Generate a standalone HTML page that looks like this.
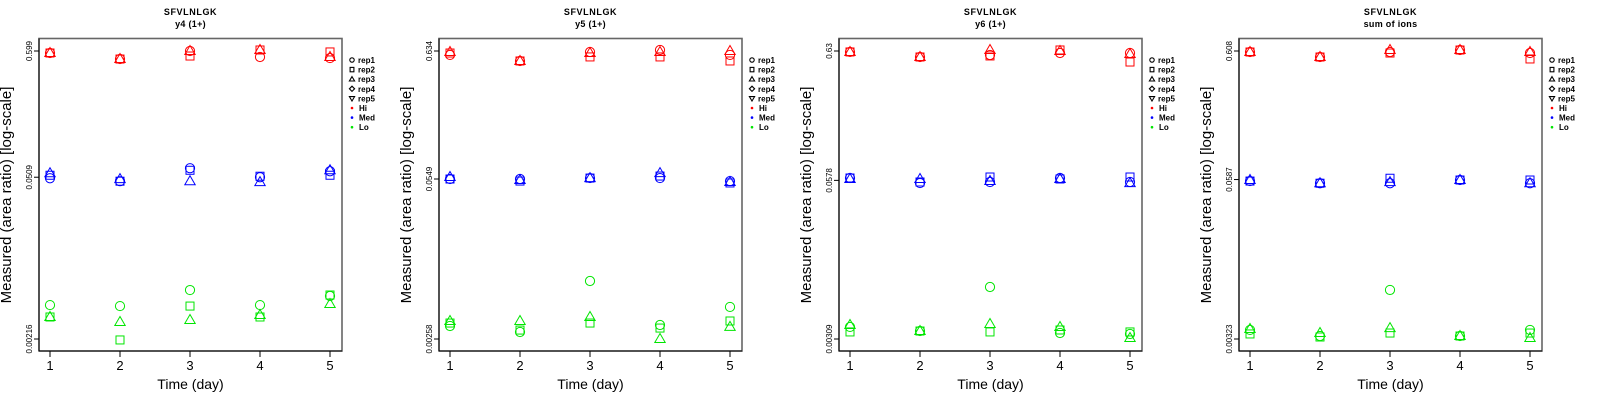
<!DOCTYPE html>
<html><head><meta charset="utf-8"><style>
body{margin:0;background:#fff;}
svg{display:block;font-family:"Liberation Sans",sans-serif;}
</style></head><body>
<svg id="chart" width="1600" height="400" viewBox="0 0 1600 400" xmlns="http://www.w3.org/2000/svg"></svg>
<script>
// ---- data ----
const days = [1, 2, 3, 4, 5];
const panelTitles = ["y4 (1+)", "y5 (1+)", "y6 (1+)", "sum of ions"];
const yTickLabels = [["0.599","0.0509","0.00216"],["0.634","0.0549","0.00258"],["0.63","0.0578","0.00309"],["0.608","0.0587","0.00323"]];
const yTickValues = [[0.599,0.0509,0.00216],[0.634,0.0549,0.00258],[0.63,0.0578,0.00309],[0.608,0.0587,0.00323]];
const levels = ["Hi","Med","Lo"];
const reps = ["rep1","rep2","rep3","rep4","rep5"];
// values[level][day] = [rep1, rep2, rep3]
const p1Hi  = [[0.576,0.576,0.576],[0.512,0.512,0.512],[0.599,0.543,0.599],[0.533,0.611,0.611],[0.522,0.588,0.533]];
const p1Med = [[0.0499,0.0529,0.0550],[0.0471,0.0471,0.0490],[0.0607,0.0583,0.0471],[0.0509,0.0519,0.0462],[0.0572,0.0529,0.0583]];
const p1Lo  = [[0.00419,0.00332,0.00332],[0.00411,0.00212,0.00301],[0.00562,0.00411,0.00313],[0.00419,0.00332,0.00345],[0.00500,0.00510,0.00428]];
const p2Hi  = [[0.588,0.610,0.622],[0.524,0.524,0.524],[0.622,0.566,0.610],[0.646,0.566,0.622],[0.588,0.524,0.634]];
const p2Med = [[0.0549,0.0549,0.0570],[0.0549,0.0528,0.0539],[0.0559,0.0559,0.0559],[0.0559,0.0581,0.0615],[0.0528,0.0509,0.0518]];
const p2Lo  = [[0.00331,0.00350,0.00364],[0.00295,0.00306,0.00364],[0.00782,0.00350,0.00393],[0.00337,0.00318,0.00258],[0.00476,0.00364,0.00325]];
const p3Hi  = [[0.619,0.619,0.619],[0.564,0.564,0.564],[0.585,0.575,0.642],[0.607,0.642,0.630],[0.607,0.514,0.596]];
const p3Med = [[0.0604,0.0604,0.0593],[0.0550,0.0561,0.0593],[0.0561,0.0615,0.0572],[0.0604,0.0593,0.0593],[0.0561,0.0615,0.0550]];
const p3Lo  = [[0.00386,0.00352,0.00400],[0.00358,0.00358,0.00358],[0.00807,0.00352,0.00408],[0.00345,0.00365,0.00386],[0.00339,0.00352,0.00315]];
const p4Hi  = [[0.597,0.597,0.597],[0.545,0.545,0.545],[0.597,0.586,0.619],[0.619,0.619,0.619],[0.586,0.526,0.597]];
const p4Med = [[0.0571,0.0571,0.0582],[0.0549,0.0549,0.0549],[0.0549,0.0601,0.0560],[0.0582,0.0582,0.0582],[0.0549,0.0582,0.0549]];
const p4Lo  = [[0.00381,0.00354,0.00387],[0.00341,0.00335,0.00360],[0.00788,0.00360,0.00394],[0.00341,0.00341,0.00341],[0.00381,0.00360,0.00329]];
const panelData = [[p1Hi,p1Med,p1Lo],[p2Hi,p2Med,p2Lo],[p3Hi,p3Med,p3Lo],[p4Hi,p4Med,p4Lo]];

const colors = {Hi:"#ff0000", Med:"#0000ff", Lo:"#00e600"};
const NS = "http://www.w3.org/2000/svg";
const svg = document.getElementById("chart");
function mk(tag, attrs, parent){const e=document.createElementNS(NS,tag);for(const k in attrs)e.setAttribute(k,attrs[k]);(parent||svg).appendChild(e);return e;}

function marker(g, shape, cx, cy, col){
  let e;
  const r=4.6;
  if(shape===0) e=mk("circle",{cx:cx,cy:cy,r:r,fill:"none",stroke:col,"stroke-width":1},g);
  else if(shape===1) e=mk("rect",{x:cx-4,y:cy-4,width:8,height:8,fill:"none",stroke:col,"stroke-width":1},g);
  else if(shape===2) e=mk("polygon",{points:`${cx},${cy-5.5} ${cx+5.2},${cy+3.5} ${cx-5.2},${cy+3.5}`,fill:"none",stroke:col,"stroke-width":1},g);
  else if(shape===3) e=mk("polygon",{points:`${cx},${cy-5} ${cx+5},${cy} ${cx},${cy+5} ${cx-5},${cy}`,fill:"none",stroke:col,"stroke-width":1},g);
  else e=mk("polygon",{points:`${cx},${cy+5.5} ${cx+5.2},${cy-3.5} ${cx-5.2},${cy-3.5}`,fill:"none",stroke:col,"stroke-width":1},g);
  return e;
}

panelData.forEach((pd, p) => {
  const ox = p*400;
  const g = mk("g",{transform:`translate(${ox},0)`});
  
  
  const L=39,R=342,T=38.5,B=351;
  const tv=yTickValues[p];
  const lt=Math.log10(tv[0]), lb=Math.log10(tv[2]);
  const yS = v => 51 + (lt - Math.log10(v)) / (lt - lb) * (339-51);
  const xS = d => 50 + (d-1) * 70;

  const t1=mk("text",{x:190.5,y:15,"text-anchor":"middle","font-size":9,"font-weight":"bold","letter-spacing":"0.6"},g);
  t1.textContent="SFVLNLGK";
  
  
  const t2=mk("text",{x:190.5,y:27,"text-anchor":"middle","font-size":9,"font-weight":"bold","letter-spacing":"0.3"},g);
  t2.textContent=panelTitles[p];
  
  

  const box=mk("rect",{x:L,y:T,width:R-L,height:B-T,fill:"none",stroke:"#666","stroke-width":1.6},g);
  
  
  mk("line",{x1:L,y1:T,x2:L,y2:B,stroke:"#000","stroke-width":1},g);
  mk("line",{x1:L,y1:B,x2:R,y2:B,stroke:"#000","stroke-width":1},g);

  days.forEach(d=>{
    const x=xS(d);
    mk("line",{x1:x,y1:B,x2:x,y2:B+6,stroke:"#000"},g);
    const tl=mk("text",{x:x,y:370,"text-anchor":"middle","font-size":13},g);
    tl.textContent=String(d);
    
    
  });
  const xt=mk("text",{x:190.5,y:389,"text-anchor":"middle","font-size":14},g);
  xt.textContent="Time (day)";
  
  

  tv.forEach((v,i)=>{
    const y=yS(v);
    mk("line",{x1:L-5,y1:y,x2:L,y2:y,stroke:"#000"},g);
    const yl=mk("text",{x:0,y:0,"text-anchor":"middle","font-size":8,transform:`translate(32,${y}) rotate(-90)`},g);
    yl.textContent=yTickLabels[p][i];
    
    
  });
  const yt=mk("text",{x:0,y:0,"text-anchor":"middle","font-size":15,transform:"translate(11,195) rotate(-90)"},g);
  yt.textContent="Measured (area ratio) [log-scale]";
  
  

  pd.forEach((lev, li)=>{
    const col=colors[levels[li]];
    lev.forEach((vals, di)=>{
      vals.forEach((v, ri)=>{
        const m=marker(g, ri, xS(days[di]), yS(v), col);
        
        
      });
    });
  });

  const lg=mk("g",{},g);
  
  
  const items=reps.concat(levels);
  items.forEach((it,i)=>{
    const y=60+i*9.6;
    const sx=352;
    if(i<5){
      const s=i===0?mk("circle",{cx:sx,cy:y,r:2.2,fill:"none",stroke:"#000","stroke-width":1.1},lg)
        : i===1?mk("rect",{x:sx-1.9,y:y-2.2,width:3.8,height:4.4,fill:"none",stroke:"#000","stroke-width":1.1},lg)
        : i===2?mk("polygon",{points:`${sx},${y-2.6} ${sx+2.6},${y+1.8} ${sx-2.6},${y+1.8}`,fill:"none",stroke:"#000","stroke-width":1.1},lg)
        : i===3?mk("polygon",{points:`${sx},${y-2.6} ${sx+2.6},${y} ${sx},${y+2.6} ${sx-2.6},${y}`,fill:"none",stroke:"#000","stroke-width":1.1},lg)
        : mk("polygon",{points:`${sx},${y+2.6} ${sx+2.6},${y-1.8} ${sx-2.6},${y-1.8}`,fill:"none",stroke:"#000","stroke-width":1.1},lg);
    } else {
      mk("circle",{cx:sx,cy:y,r:1.3,fill:colors[it]},lg);
    }
    const lt2=mk("text",{x:i<5?358:359,y:y+3,"font-size":8,"font-weight":"bold"},lg);
    lt2.textContent=it;
    
    
  });
});
</script>
</body></html>
